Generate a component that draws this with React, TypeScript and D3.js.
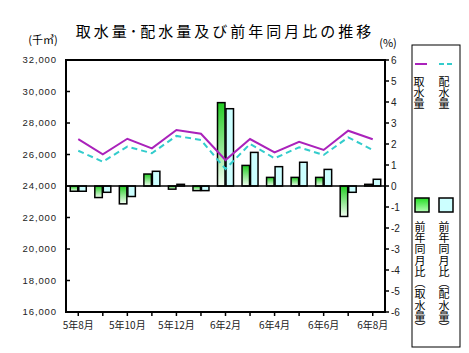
import React from "react";
import * as d3 from "d3";

const months = [
  "5年8月", "5年9月", "5年10月", "5年11月", "5年12月", "6年1月", "6年2月",
  "6年3月", "6年4月", "6年5月", "6年6月", "6年7月", "6年8月",
];
// 取水量 / 配水量 (千㎥)
const intake = [26970, 26010, 27000, 26390, 27560, 27320, 25650, 26980, 26140, 26810, 26290, 27510, 26970];
const distribution = [26240, 25540, 26500, 26080, 27180, 26920, 25080, 26670, 25760, 26460, 25970, 27090, 26290];
// 前年同月比 (%)
const intakeYoY = [-0.25, -0.55, -0.85, 0.57, -0.15, -0.22, 3.97, 0.98, 0.41, 0.41, 0.41, -1.45, 0.08];
const distYoY = [-0.25, -0.3, -0.5, 0.7, 0.08, -0.22, 3.68, 1.6, 0.92, 1.13, 0.79, -0.3, 0.32];

const leftTicks = [16000, 18000, 20000, 22000, 24000, 26000, 28000, 30000, 32000];
const rightTicks = [-6, -5, -4, -3, -2, -1, 0, 1, 2, 3, 4, 5, 6];

const jp = "'Noto Sans CJK JP', sans-serif";
const num = "'Liberation Sans', Arial, sans-serif";

export default function App() {
  const margin = { left: 66, right: 385, top: 60, bottom: 312 };

  const x = d3.scaleBand().domain(months).range([margin.left, margin.right]);
  const cx = (m: string) => (x(m) as number) + x.bandwidth() / 2;
  const yL = d3.scaleLinear().domain([16000, 32000]).range([margin.bottom, margin.top]);
  const yR = d3.scaleLinear().domain([-6, 6]).range([margin.bottom, margin.top]);

  const line = d3
    .line<number>()
    .x((_, i) => cx(months[i]))
    .y((d) => yL(d));

  const bw = 7.5;

  return (
    <svg width={469} height={353} style={{ position: "absolute", left: 0, top: 0, background: "#fff" }}>
      <defs>
        <linearGradient id="gGreen" x1="0" y1="0" x2="0" y2="1">
          <stop offset="0" stopColor="#22cc22" />
          <stop offset="1" stopColor="#f4fff4" />
        </linearGradient>
        <linearGradient id="gLegend" x1="0" y1="0" x2="0" y2="1">
          <stop offset="0" stopColor="#22dd22" />
          <stop offset="1" stopColor="#b8ffb8" />
        </linearGradient>
      </defs>

      <text x={225} y={37} textAnchor="middle" fontFamily={jp} fontSize={15} letterSpacing={3}>
        取水量･配水量及び前年同月比の推移
      </text>
      <text x={43} y={44} textAnchor="middle" fontFamily={jp} fontSize={11}>
        (千㎥)
      </text>
      <text x={388} y={47} textAnchor="middle" fontFamily={jp} fontSize={11}>
        (%)
      </text>

      {/* bars */}
      {months.map((m, i) => {
        const c = cx(m);
        const a = intakeYoY[i];
        const b = distYoY[i];
        return (
          <g key={m} stroke="#000" strokeWidth={1.5}>
            <rect
              x={c - bw - 0.5}
              y={Math.min(yR(a), yR(0))}
              width={bw}
              height={Math.abs(yR(a) - yR(0))}
              fill="url(#gGreen)"
            />
            <rect
              x={c + 0.5}
              y={Math.min(yR(b), yR(0))}
              width={bw}
              height={Math.abs(yR(b) - yR(0))}
              fill="#ccffff"
            />
          </g>
        );
      })}

      {/* zero line */}
      <line x1={margin.left} x2={margin.right} y1={yR(0)} y2={yR(0)} stroke="#000" strokeWidth={1.5} />

      {/* lines */}
      <path d={line(intake) as string} fill="none" stroke="#aa22bb" strokeWidth={2} />
      <path d={line(distribution) as string} fill="none" stroke="#33cccc" strokeWidth={2} strokeDasharray="6,4" />

      {/* frame */}
      <rect
        x={margin.left}
        y={margin.top}
        width={margin.right - margin.left}
        height={margin.bottom - margin.top}
        fill="none"
        stroke="#000"
        strokeWidth={2}
      />

      {/* left axis */}
      {leftTicks.map((t) => (
        <g key={t}>
          <line x1={margin.left} x2={margin.left + 4} y1={yL(t)} y2={yL(t)} stroke="#000" strokeWidth={1.5} />
          <text
            x={57}
            y={yL(t)}
            dy="0.35em"
            textAnchor="end"
            fontFamily={num}
            fontSize={9.5}
            letterSpacing={0.9}
            fill="#222"
          >
            {d3.format(",")(t)}
          </text>
        </g>
      ))}

      {/* right axis */}
      {rightTicks.map((t) => (
        <g key={t}>
          <line x1={margin.right} x2={margin.right + 4} y1={yR(t)} y2={yR(t)} stroke="#000" strokeWidth={1.5} />
          <text x={391} y={yR(t)} dy="0.35em" fontFamily={num} fontSize={10} fill="#222">
            {t}
          </text>
        </g>
      ))}

      {/* x axis */}
      {months.map((m, i) => (
        <g key={m}>
          <line x1={cx(m)} x2={cx(m)} y1={margin.bottom} y2={margin.bottom + 4} stroke="#000" strokeWidth={1.5} />
          {i % 2 === 0 && (
            <text x={cx(m)} y={329} textAnchor="middle" fontFamily={jp} fontSize={10} fill="#222">
              {m}
            </text>
          )}
        </g>
      ))}

      {/* legend */}
      <rect x={412} y={45} width={48} height={302} fill="none" stroke="#000" strokeWidth={1} />
      <line x1={415} x2={427} y1={64} y2={64} stroke="#aa22bb" strokeWidth={2} />
      <line x1={439} x2={455} y1={64} y2={64} stroke="#33cccc" strokeWidth={2} strokeDasharray="5,3" />
      <text x={419} y={76} fontFamily={jp} fontSize={11} style={{ writingMode: "vertical-rl" }}>
        取水量
      </text>
      <text x={444} y={76} fontFamily={jp} fontSize={11} style={{ writingMode: "vertical-rl" }}>
        配水量
      </text>
      <rect x={415} y={198} width={14} height={14} fill="url(#gLegend)" stroke="#000" strokeWidth={1.5} />
      <rect x={439} y={198} width={14} height={14} fill="#ccffff" stroke="#000" strokeWidth={1.5} />
      <text x={420} y={221} fontFamily={jp} fontSize={11} letterSpacing={0.3} style={{ writingMode: "vertical-rl" }}>
        前年同月比（取水量）
      </text>
      <text x={444} y={221} fontFamily={jp} fontSize={11} letterSpacing={0.3} style={{ writingMode: "vertical-rl" }}>
        前年同月比（配水量）
      </text>
    </svg>
  );
}
